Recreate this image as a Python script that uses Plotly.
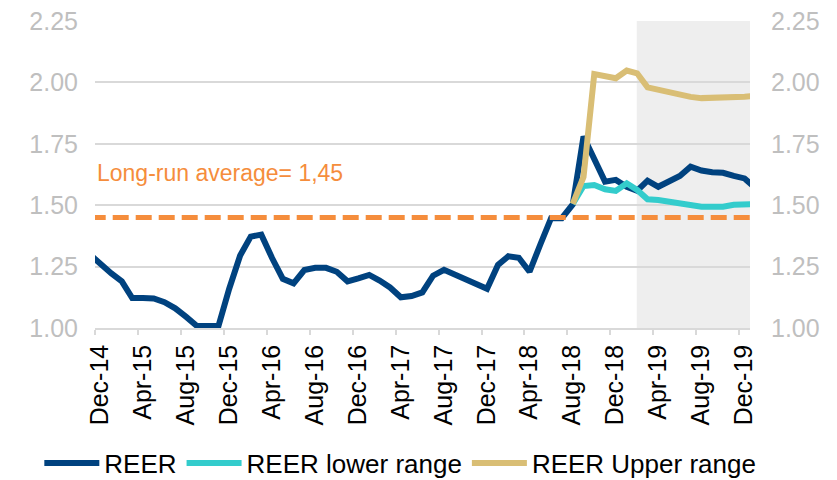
import plotly.graph_objects as go
import pandas as pd

# ---- data (monthly, Nov-14 .. Jan-20; axis shows Dec-14 .. Dec-19) ----
months = pd.date_range("2014-11-01", "2020-01-01", freq="MS").strftime("%Y-%m-%d").tolist()

reer = [1.30, 1.258, 1.222, 1.19, 1.122, 1.122, 1.12, 1.105, 1.08, 1.045,
        1.008, 1.008, 1.008, 1.16, 1.295, 1.372, 1.38, 1.285, 1.20, 1.182,
        1.236, 1.245, 1.245, 1.229, 1.19, 1.202, 1.216, 1.193, 1.165, 1.125,
        1.13, 1.145, 1.213, 1.237, 1.219, 1.202, 1.183, 1.16, 1.257, 1.292,
        1.286, 1.229, 1.34, 1.447, 1.447, 1.503, 1.78, 1.684, 1.596, 1.603,
        1.575, 1.559, 1.60, 1.575, 1.599, 1.619, 1.657, 1.641, 1.634, 1.632,
        1.619, 1.609, 1.57]

range_months = months[45:]   # Aug-18 .. Jan-20
reer_lower = [1.505, 1.578, 1.582, 1.565, 1.558, 1.589, 1.562, 1.524, 1.521,
              1.513, 1.505, 1.497, 1.494, 1.494, 1.494, 1.502, 1.505, 1.505]
reer_upper = [1.505, 1.615, 2.034, 2.023, 2.017, 2.048, 2.037, 1.980, 1.969,
              1.961, 1.950, 1.941, 1.936, 1.936, 1.936, 1.936, 1.942, 1.945]

long_run_avg = 1.45
avg_label = "Long-run average= 1,45"
forecast_start = "2019-02-14"
axis_start, axis_end = "2014-12-01", "2020-01-01"
y_min, y_max, y_step = 1.0, 2.25, 0.25

FONT = "Arial, 'Liberation Sans', sans-serif"
C_REER = "#00427F"
C_LOW = "#33CCCC"
C_UP = "#D9BE75"
C_AVG = "#F58D3C"
GRID = "#D9D9D9"
TICKGREY = "#BFBFBF"

fig = go.Figure()

common = dict(mode="lines", xperiod="M1", xperiodalignment="middle")
fig.add_trace(go.Scatter(x=months, y=reer, name="REER",
                         line=dict(color=C_REER, width=6), **common))
fig.add_trace(go.Scatter(x=range_months, y=reer_lower, name="REER lower range",
                         line=dict(color=C_LOW, width=6), **common))
fig.add_trace(go.Scatter(x=range_months, y=reer_upper, name="REER Upper range",
                         line=dict(color=C_UP, width=6), **common))
fig.add_trace(go.Scatter(x=months, y=[long_run_avg] * len(months), showlegend=False,
                         line=dict(color=C_AVG, width=5, dash="16px,7px"),
                         hoverinfo="skip", **common))
# invisible trace for right axis
fig.add_trace(go.Scatter(x=months, y=reer, yaxis="y2", showlegend=False,
                         mode="lines", line=dict(width=0), opacity=0,
                         hoverinfo="skip", xperiod="M1", xperiodalignment="middle"))

fig.add_shape(type="rect", xref="x", yref="paper", x0=forecast_start, x1=axis_end,
              y0=0, y1=1, fillcolor="#EEEEEE", line=dict(width=0), layer="below")

fig.add_annotation(x=0, xref="paper", xanchor="left", y=1.63, yref="y",
                   yanchor="middle", text=avg_label, showarrow=False,
                   font=dict(family=FONT, size=23, color=C_AVG))

yax = dict(range=[y_min, y_max], tick0=y_min, dtick=y_step, tickformat=".2f",
           gridcolor=GRID, gridwidth=1.5, zeroline=False, automargin=False,
           tickfont=dict(family=FONT, size=25, color=TICKGREY), ticks="",
           fixedrange=True)

fig.update_layout(
    width=837, height=480,
    margin=dict(l=95, r=87, t=21, b=152, autoexpand=False),
    plot_bgcolor="white", paper_bgcolor="white",
    xaxis=dict(type="date", range=[axis_start, axis_end], tick0=axis_start,
               dtick="M4", tickformat="%b-%y", tickangle=-90, automargin=False,
               ticks="outside", ticklen=5, tickwidth=1.5, tickcolor=GRID,
               ticklabelshift=5, showgrid=False, showline=True,
               linecolor=GRID, linewidth=1.5,
               tickfont=dict(family=FONT, size=25, color="#000000")),
    yaxis=dict(**yax, showgrid=True, ticklabelstandoff=16),
    yaxis2=dict(**yax, overlaying="y", side="right", ticklabelstandoff=20,
                showgrid=False),
    legend=dict(orientation="h", x=-0.085, xanchor="left", y=-0.44,
                yanchor="middle", itemwidth=55,
                font=dict(family=FONT, size=26, color="#000000"),
                bgcolor="rgba(0,0,0,0)", tracegroupgap=0),
    showlegend=True,
)

fig.write_html("out.html", post_script="document.body.style.margin='0px';",
               config={"displayModeBar": False})
